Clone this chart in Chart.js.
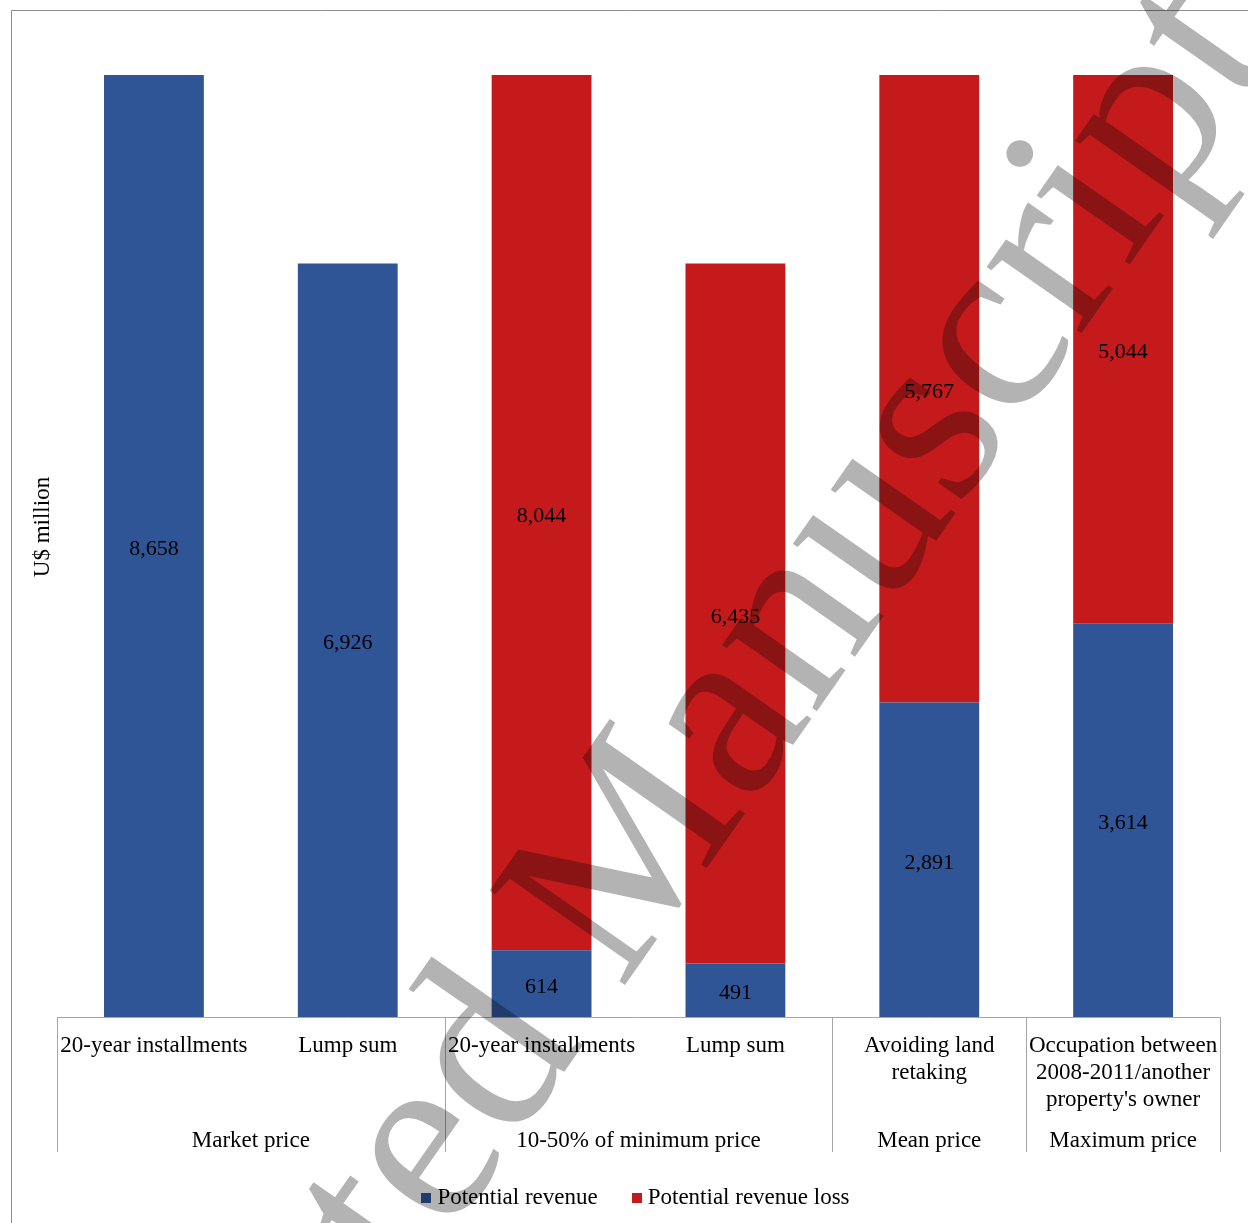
<!DOCTYPE html>
<html>
<head>
<meta charset="utf-8">
<script src="https://cdn.jsdelivr.net/npm/chart.js@4/dist/chart.umd.min.js"></script>
<style>
  html, body { margin: 0; padding: 0; background: #ffffff; overflow: hidden; }
  #wrap { position: relative; width: 1248px; height: 1223px; }
  canvas { display: block; }
</style>
</head>
<body>
<div id="wrap"><canvas id="chart" width="1248" height="1223"></canvas></div>
<script>
// Scenario categories (inner level, may wrap over several lines)
const categories = [
  ["20-year installments"],
  ["Lump sum"],
  ["20-year installments"],
  ["Lump sum"],
  ["Avoiding land", "retaking"],
  ["Occupation between", "2008-2011/another", "property's owner"]
];
// Price groups (outer level) and the category index range each one spans
const groups = ["Market price", "10-50% of minimum price", "Mean price", "Maximum price"];
const groupFirst = [0, 2, 4, 5];
const groupLast = [1, 3, 4, 5];

// Series values, US$ million
const potentialRevenue = [8658, 6926, 614, 491, 2891, 3614];
const potentialRevenueLoss = [null, null, 8044, 6435, 5767, 5044];

const seriesNames = ["Potential revenue", "Potential revenue loss"];
const seriesColors = ["#2F5597", "#C41A1B"];
const yAxisTitle = "U$ million";
const watermarkText = "Accepted Manuscript";

const SERIF = "'Liberation Serif', 'Times New Roman', serif";

const totals = potentialRevenue.map((v, i) => (v || 0) + (potentialRevenueLoss[i] || 0));
const yMax = Math.max(...totals);

const fmt = v => v.toLocaleString('en-US');

// Draws value labels, the two-level category axis, axis title, legend and frame
const decorations = {
  id: 'decorations',
  afterDatasetsDraw(chart) {
    const ctx = chart.ctx;
    const area = chart.chartArea;
    const x = chart.scales.x;

    // value labels centred in each segment
    ctx.save();
    ctx.fillStyle = '#000000';
    ctx.font = `22px ${SERIF}`;
    ctx.textAlign = 'center';
    ctx.textBaseline = 'alphabetic';
    chart.data.datasets.forEach((ds, di) => {
      const meta = chart.getDatasetMeta(di);
      meta.data.forEach((el, i) => {
        const v = ds.data[i];
        if (v === null || v === undefined) return;
        const cy = (el.y + el.base) / 2;
        ctx.fillText(fmt(v), el.x, cy + 9);
      });
    });
    ctx.restore();

    // category axis line and group separators
    const catW = x.getPixelForValue(1) - x.getPixelForValue(0);
    const axisBottom = area.bottom + 135;
    ctx.save();
    ctx.strokeStyle = '#A6A6A6';
    ctx.lineWidth = 1;
    ctx.beginPath();
    ctx.moveTo(area.left, Math.round(area.bottom) + 0.5);
    ctx.lineTo(area.right, Math.round(area.bottom) + 0.5);
    const seps = [x.getPixelForValue(0) - catW / 2];
    groupLast.forEach(li => seps.push(x.getPixelForValue(li) + catW / 2));
    seps.forEach(px => {
      const sx = Math.round(px) + 0.5;
      ctx.moveTo(sx, area.bottom);
      ctx.lineTo(sx, axisBottom);
    });
    ctx.stroke();
    ctx.restore();

    // inner category labels
    ctx.save();
    ctx.fillStyle = '#000000';
    ctx.font = `23px ${SERIF}`;
    ctx.textAlign = 'center';
    ctx.textBaseline = 'alphabetic';
    categories.forEach((lines, i) => {
      const cx = x.getPixelForValue(i);
      lines.forEach((t, k) => ctx.fillText(t, cx, area.bottom + 35 + k * 27));
    });
    // outer group labels
    groups.forEach((g, gi) => {
      const cx = (x.getPixelForValue(groupFirst[gi]) + x.getPixelForValue(groupLast[gi])) / 2;
      ctx.fillText(g, cx, area.bottom + 130);
    });

    // y-axis title
    ctx.save();
    ctx.translate(49, (area.top + area.bottom) / 2 - 19);
    ctx.rotate(-Math.PI / 2);
    ctx.fillText(yAxisTitle, 0, 0);
    ctx.restore();

    // legend
    const box = 10, gap = 6, itemGap = 34;
    const widths = seriesNames.map(n => ctx.measureText(n).width);
    const total = widths.reduce((a, w) => a + box + gap + w, 0) + itemGap * (seriesNames.length - 1);
    let lx = (area.left + area.right) / 2 - 3 - total / 2;
    const ly = area.bottom + 187;
    ctx.textAlign = 'left';
    chart.data.datasets.forEach((ds, di) => {
      ctx.fillStyle = ds.backgroundColor;
      ctx.fillRect(Math.round(lx), ly - 11, box, box);
      ctx.fillStyle = '#000000';
      ctx.fillText(ds.label, lx + box + gap, ly);
      lx += box + gap + widths[di] + itemGap;
    });
    ctx.restore();

    // outer frame
    ctx.save();
    ctx.strokeStyle = '#8C8C8C';
    ctx.lineWidth = 1;
    ctx.beginPath();
    ctx.moveTo(11.5, chart.height);
    ctx.lineTo(11.5, 10.5);
    ctx.lineTo(chart.width, 10.5);
    ctx.stroke();
    ctx.restore();
  },
  afterDraw(chart) {
    // diagonal grey watermark, multiplied over the chart
    const ctx = chart.ctx;
    ctx.save();
    ctx.globalCompositeOperation = 'multiply';
    ctx.fillStyle = '#B3B3B3';
    ctx.font = `252px ${SERIF}`;
    ctx.textAlign = 'left';
    ctx.textBaseline = 'alphabetic';
    ctx.translate(39, 1822);
    ctx.rotate(-55 * Math.PI / 180);
    ctx.fillText(watermarkText, 0, 0);
    ctx.restore();
  }
};

new Chart(document.getElementById('chart'), {
  type: 'bar',
  data: {
    labels: categories.map(c => c.join(' ')),
    datasets: [
      { label: seriesNames[0], data: potentialRevenue, backgroundColor: seriesColors[0], stack: 'total' },
      { label: seriesNames[1], data: potentialRevenueLoss, backgroundColor: seriesColors[1], stack: 'total' }
    ]
  },
  options: {
    responsive: false,
    animation: false,
    devicePixelRatio: 1,
    layout: { padding: { left: 57, right: 28, top: 75, bottom: 206 } },
    datasets: { bar: { categoryPercentage: 1, barPercentage: 0.515, borderWidth: 0 } },
    scales: {
      x: { display: false, stacked: true },
      y: { display: false, stacked: true, min: 0, max: yMax }
    },
    plugins: { legend: { display: false }, tooltip: { enabled: false } }
  },
  plugins: [decorations]
});
</script>
</body>
</html>
